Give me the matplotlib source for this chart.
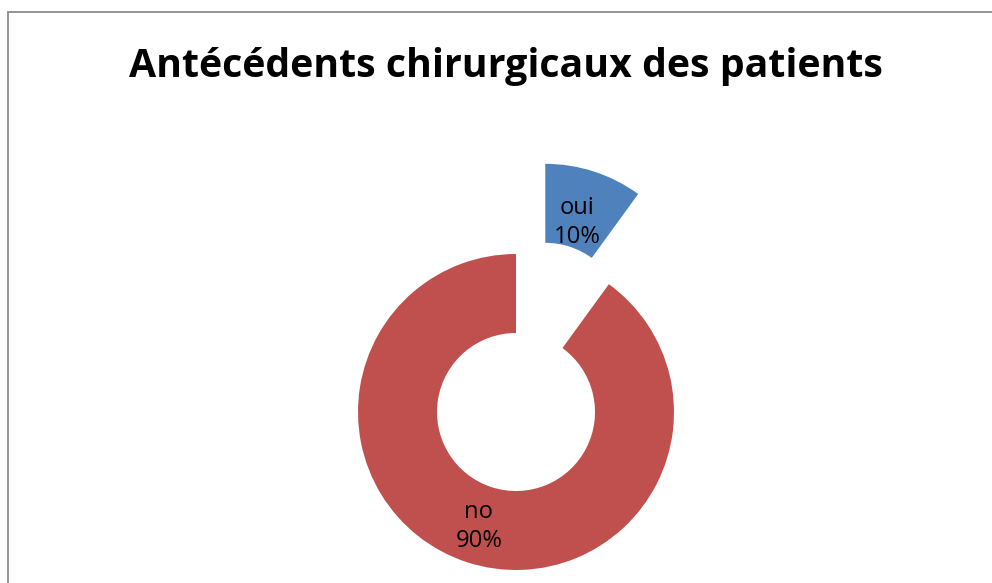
import numpy as np
import matplotlib
matplotlib.use("Agg")
import matplotlib.pyplot as plt
from matplotlib.lines import Line2D

title = "Antécédents chirurgicaux des patients"
categories = ["oui", "no"]
values = [10, 90]
colors = ["#4F81BD", "#C0504D"]

W, H, DPI = 992, 583, 100
fig = plt.figure(figsize=(W / DPI, H / DPI), dpi=DPI)
fig.patch.set_facecolor("white")

# donut geometry in pixels
cx, cy, R = 516, 412, 158
ax = fig.add_axes([0, 0, 1, 1])

explode = [0.6, 0.0]
wedges, _ = ax.pie(values, colors=colors, startangle=90, counterclock=False,
                   explode=explode, radius=1.0,
                   wedgeprops=dict(width=0.5, linewidth=0))
ax.set_aspect("auto")
ax.set_xlim(-cx / R, (W - cx) / R)
ax.set_ylim(-(H - cy) / R, cy / R)
ax.axis("off")

total = float(sum(values))
label_r = [0.66, 0.76]
texts = []
for w, cat, v, ex, lr in zip(wedges, categories, values, explode, label_r):
    mid = np.deg2rad((w.theta1 + w.theta2) / 2.0)
    r = ex + lr
    t = ax.text(r * np.cos(mid), r * np.sin(mid),
                f"{cat}\n{v / total * 100:.0f}%", ha="center", va="center",
                fontsize=16, family=["Open Sans", "DejaVu Sans"], color="black",
                linespacing=1.3)
    texts.append(t)

tt = fig.text(505.5 / W, 1 - 66 / H, title, ha="center", va="center",
              fontsize=30, fontweight="bold", family=["Open Sans", "DejaVu Sans"])

# fit font sizes to the reference text widths
fig.canvas.draw()
rend = fig.canvas.get_renderer()
bb = tt.get_window_extent(rend)
tt.set_fontsize(30 * 755 / bb.width)
probe = fig.text(0, 0, "10%", fontsize=16, family=["Open Sans", "DejaVu Sans"])
pw = probe.get_window_extent(rend).width
probe.remove()
for t in texts:
    t.set_fontsize(16 * 47 / pw)

# border (left and top)
fig.add_artist(Line2D([8 / W, 8 / W, 1.01], [-0.01, 1 - 12 / H, 1 - 12 / H],
                      transform=fig.transFigure, color="#8C8C8C", linewidth=1.3,
                      solid_joinstyle="miter"))

fig.savefig("out.png", dpi=DPI)
